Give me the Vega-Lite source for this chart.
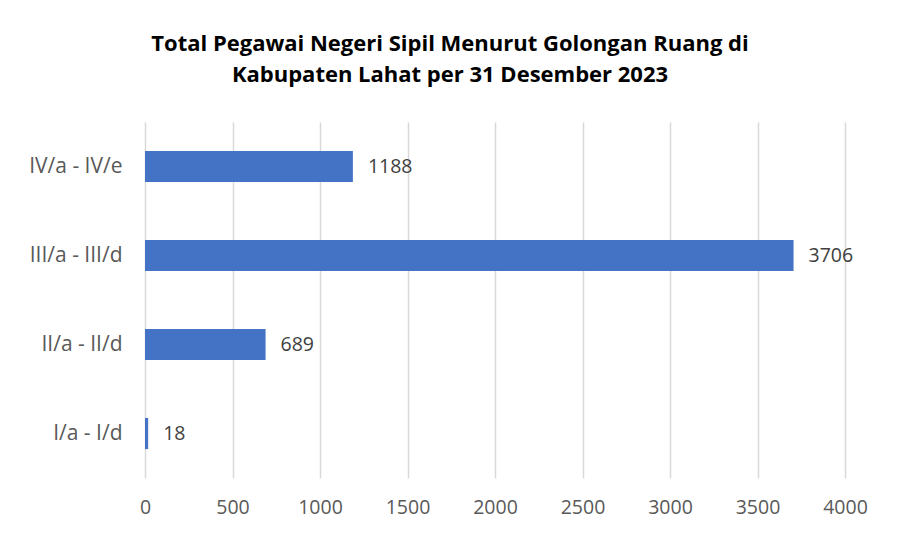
{
  "$schema": "https://vega.github.io/schema/vega-lite/v6.json",
  "width": 700,
  "height": 356,
  "autosize": "none",
  "padding": {"left": 145, "top": 122, "right": 53, "bottom": 58},
  "background": "white",
  "title": {
    "text": ["Total Pegawai Negeri Sipil Menurut Golongan Ruang di", "Kabupaten Lahat per 31 Desember 2023"],
    "font": "Open Sans",
    "fontSize": 22,
    "fontWeight": "bold",
    "color": "black",
    "anchor": "middle",
    "dx": -45,
    "offset": 35,
    "lineHeight": 31
  },
  "data": {
    "values": [
      {"golongan": "IV/a - IV/e", "jumlah": 1188},
      {"golongan": "III/a - III/d", "jumlah": 3706},
      {"golongan": "II/a - II/d", "jumlah": 689},
      {"golongan": "I/a - I/d", "jumlah": 18}
    ]
  },
  "encoding": {
    "y": {
      "field": "golongan",
      "type": "nominal",
      "sort": ["IV/a - IV/e", "III/a - III/d", "II/a - II/d", "I/a - I/d"],
      "title": null,
      "scale": {"paddingInner": 0.65, "paddingOuter": 0.325},
      "axis": {"domain": false, "ticks": false, "labelPadding": 23, "labelFont": "Open Sans", "labelFontSize": 21, "labelColor": "#595959"}
    },
    "x": {
      "field": "jumlah",
      "type": "quantitative",
      "title": null,
      "scale": {"domain": [0, 4000], "nice": false},
      "axis": {"values": [0, 500, 1000, 1500, 2000, 2500, 3000, 3500, 4000], "format": "d", "labelFlush": false, "domain": false, "ticks": false, "labelPadding": 20, "labelFont": "Open Sans", "labelFontSize": 19.5, "labelColor": "#595959", "gridColor": "#d9d9d9", "gridWidth": 1.5}
    }
  },
  "layer": [
    {"mark": {"type": "bar", "color": "#4472C4"}},
    {"mark": {"type": "text", "align": "left", "baseline": "middle", "dx": 15, "font": "Open Sans", "fontSize": 19.5, "color": "#404040"}, "encoding": {"text": {"field": "jumlah", "type": "quantitative", "format": "d"}}}
  ],
  "config": {"view": {"stroke": null}}
}
